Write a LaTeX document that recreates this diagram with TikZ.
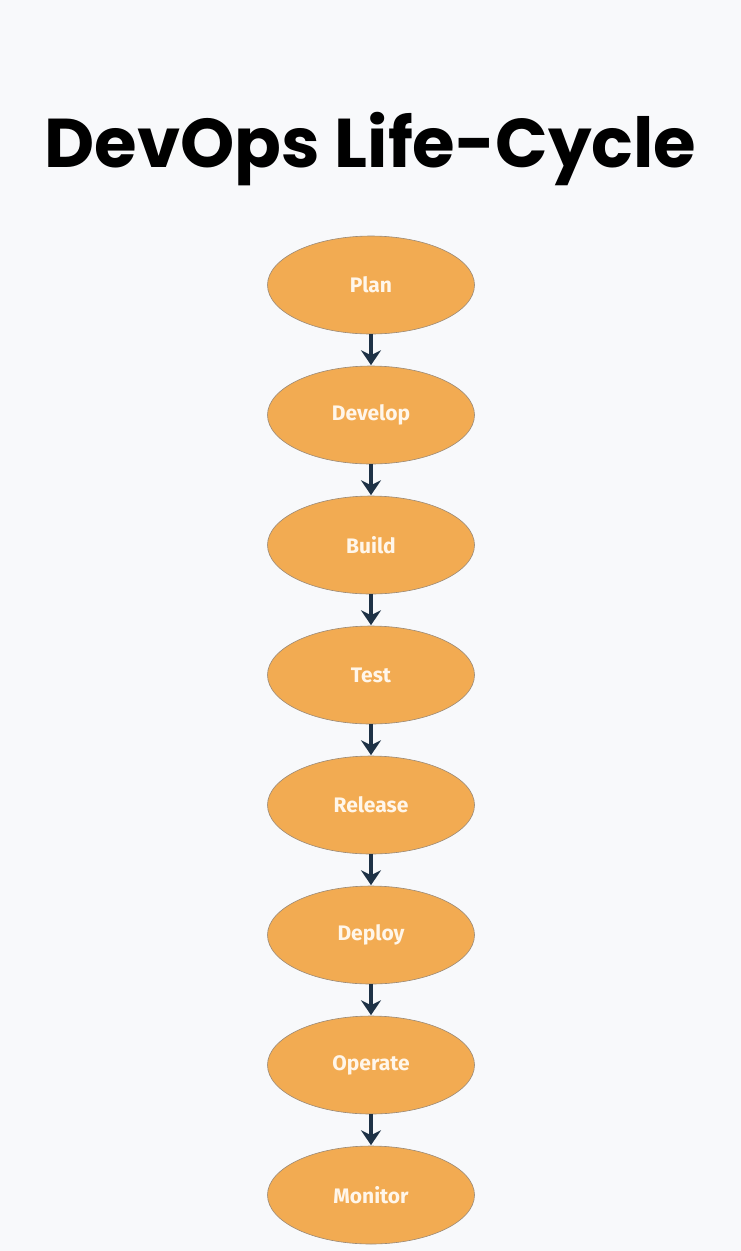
\documentclass[tikz,border=0pt]{standalone}
\usepackage{fontspec}
\setmainfont{Fira Sans}
\newfontfamily\titlefont{Poppins}
\usetikzlibrary{shapes.geometric,arrows.meta}
\definecolor{bg}{HTML}{F8F9FB}
\definecolor{ellfill}{HTML}{F2AB52}
\definecolor{ellline}{HTML}{9A8A78}
\definecolor{arrowcol}{HTML}{1E3246}
\definecolor{txtcol}{HTML}{FFF6EA}
\tikzset{
  stage/.style={ellipse, draw=ellline, line width=0.6pt, fill=ellfill,
    minimum width=207pt, minimum height=98pt, inner sep=0pt,
    font=\fontsize{21}{24}\selectfont\bfseries, text=txtcol},
  flow/.style={draw=arrowcol, line width=3.5pt,
    -{Stealth[length=15pt,width=20pt,inset=5pt]}, shorten >=0.5pt},
}
\begin{document}
\begin{tikzpicture}[x=1pt,y=-1pt]
\fill[bg] (0,0) rectangle (741,1251);
\useasboundingbox (0,0) rectangle (741,1251);
\node[font=\titlefont\bfseries\fontsize{69}{74}\selectfont, anchor=base] (title) at (370.5,167) {DevOps Life-Cycle};
\node[stage] (plan) at (371,285) {Plan};
\node[stage] (develop) at (371,415) {Develop};
\node[stage] (build) at (371,545) {Build};
\node[stage] (test) at (371,675) {Test};
\node[stage] (release) at (371,805) {Release};
\node[stage] (deploy) at (371,935) {Deploy};
\node[stage] (operate) at (371,1065) {Operate};
\node[stage] (monitor) at (371,1195) {Monitor};
\foreach \a/\b in {plan/develop,develop/build,build/test,test/release,release/deploy,deploy/operate,operate/monitor}
  \draw[flow] (\a) -- (\b);
\end{tikzpicture}
\end{document}
